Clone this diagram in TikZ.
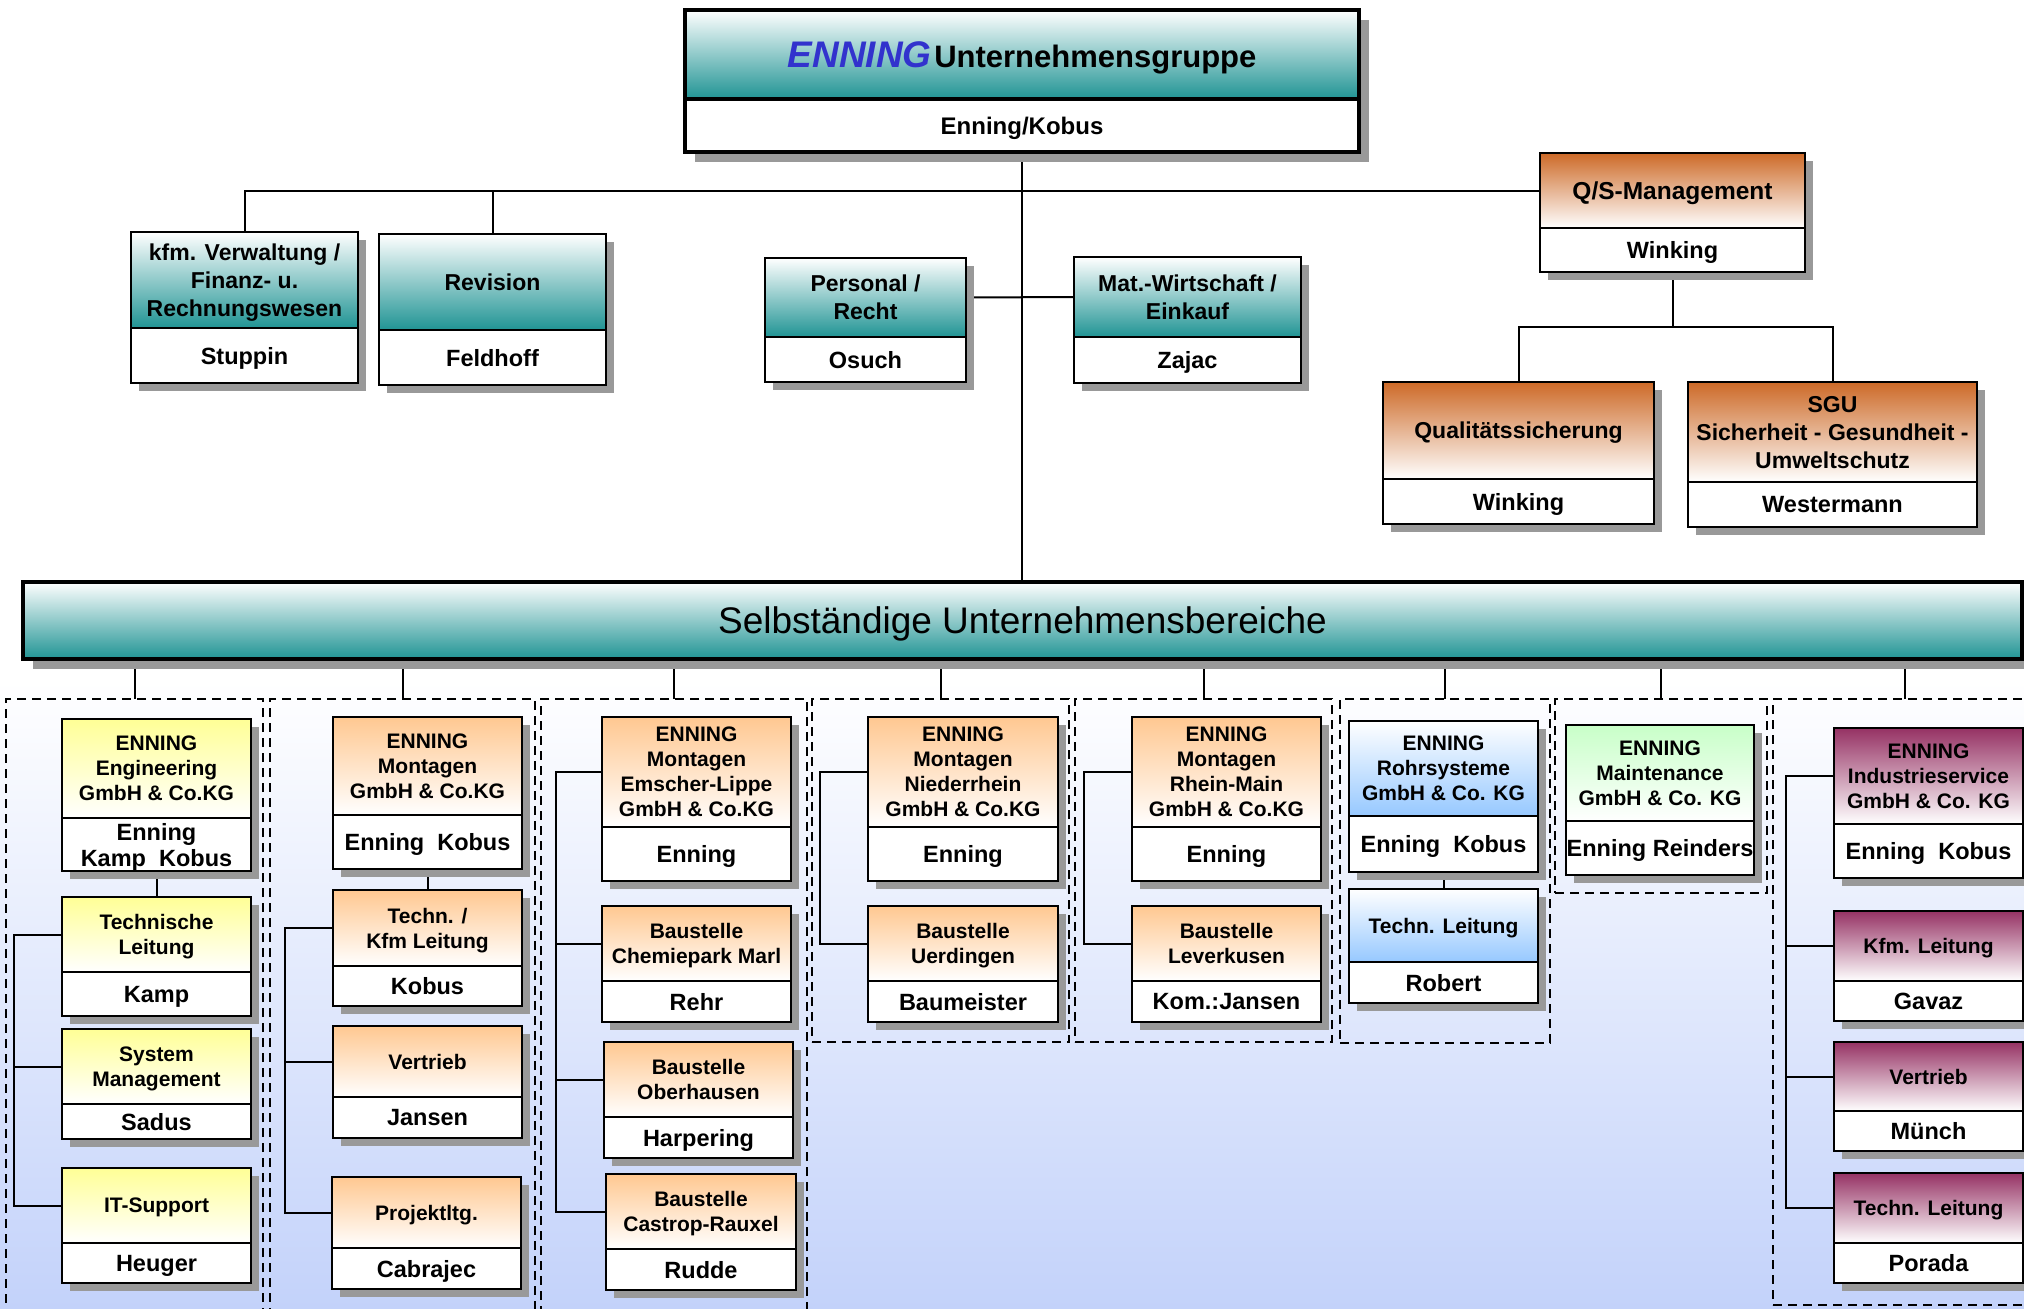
\documentclass[tikz,border=0pt]{standalone}
\usepackage{fontspec}
\setmainfont{Liberation Sans}
\definecolor{tealc}{RGB}{32,148,148}
\definecolor{orangec}{RGB}{205,106,40}
\definecolor{yellowc}{RGB}{255,255,150}
\definecolor{peachc}{RGB}{255,200,145}
\definecolor{bluec}{RGB}{150,200,255}
\definecolor{greenc}{RGB}{200,255,200}
\definecolor{magc}{RGB}{150,50,100}
\definecolor{shadowc}{RGB}{153,153,153}
\definecolor{bgblue}{RGB}{195,210,250}
\definecolor{ennblue}{RGB}{50,50,205}
\pgfdeclarelayer{back}\pgfdeclarelayer{conns}\pgfsetlayers{back,conns,main}
\tikzset{
  box/.style={draw=black, line width=2.2pt, inner sep=0pt, outer sep=0pt, align=center, anchor=north west, text depth=0pt},
  boxpp/.style={box, fill=white, font=\bfseries\fontsize{23.5}{26}\selectfont},
  boxhd/.style={box, font=\bfseries\fontsize{21}{25}\selectfont},
  bigt/.style={font=\bfseries\fontsize{23}{28}\selectfont},
  hteal/.style={top color=white, bottom color=tealc},
  horange/.style={top color=orangec, bottom color=white},
  hyellow/.style={top color=yellowc, bottom color=white},
  hpeach/.style={top color=peachc, bottom color=white},
  hblue/.style={top color=white, bottom color=bluec},
  hgreen/.style={top color=greenc, bottom color=white},
  hmag/.style={top color=magc, bottom color=white},
  conn/.style={draw=black, line width=2pt},
  grp/.style={draw=black, dash pattern=on 9pt off 6pt, line width=1.8pt, inner sep=0pt, outer sep=0pt, anchor=north west},
}
% #1 name, #2 x1, #3 y1, #4 ydiv, #5 x2, #6 y2, #7 header style, #8 title, #9 person
\newcommand\obox[9]{%
  \fill[shadowc] ({#2+8},{#3+8}) rectangle ({#5+8},{#6+8});
  \node[boxhd,#7,minimum width={(#5-(#2))*1pt},minimum height={(#4-(#3))*1pt}] (#1h) at (#2,#3) {#8};
  \node[boxpp,minimum width={(#5-(#2))*1pt},minimum height={(#6-(#4))*1pt}] (#1p) at (#2,#4) {#9};
}
\newcommand\grpbox[5]{%
  \node[grp,minimum width={(#4-(#2))*1pt},minimum height={(#5-(#3))*1pt}] (#1) at (#2,#3) {};
}
\begin{document}
\begin{tikzpicture}[x=1pt,y=-1pt]
\useasboundingbox (0,0) rectangle (2024,1309);
\clip (0,0) rectangle (2024,1309);

\begin{pgfonlayer}{back}
  \fill[white] (0,0) rectangle (2024,1309);
  \shade[top color=white, bottom color=bgblue] (0,680) rectangle (2024,1309);
  \grpbox{g1}{6}{699}{263}{1330}
  \grpbox{g2}{270}{699}{535}{1330}
  \grpbox{g3}{541}{699}{807}{1330}
  \grpbox{g4}{812}{699}{1069}{1042}
  \grpbox{g5}{1075}{699}{1332}{1042}
  \grpbox{g6}{1340}{699}{1550}{1043}
  \grpbox{g7}{1555}{699}{1767}{893}
  \grpbox{g8}{1773}{699}{2037}{1305}
\end{pgfonlayer}

% top box
\fill[shadowc] (695,20) rectangle (1369,162);
\node[box, line width=4pt, hteal, minimum width=674pt, minimum height=89pt] (tph) at (685,10)
  {{\color{ennblue}\bfseries\itshape\fontsize{37}{40}\selectfont ENNING} {\bfseries\fontsize{31}{36}\selectfont Unternehmensgruppe}};
\node[box, line width=4pt, fill=white, minimum width=674pt, minimum height=53pt, font=\bfseries\fontsize{24}{28}\selectfont] (tpp) at (685,99) {Enning/Kobus};

% upper staff boxes
\obox{kfm}{131}{232}{328}{358}{383}{hteal,bigt}{kfm. Verwaltung /\\Finanz- u.\\Rechnungswesen}{Stuppin}
\obox{rev}{379}{234}{330}{606}{385}{hteal,bigt}{Revision}{Feldhoff}
\obox{pers}{765}{258}{337}{966}{382}{hteal,bigt}{Personal /\\Recht}{Osuch}
\obox{mat}{1074}{257}{337}{1301}{383}{hteal,bigt}{Mat.-Wirtschaft /\\Einkauf}{Zajac}
\obox{qs}{1540}{153}{228}{1805}{272}{horange,font=\bfseries\fontsize{24.5}{29}\selectfont}{Q/S-Management}{Winking}
\obox{qual}{1383}{382}{479}{1654}{524}{horange,bigt}{Qualitätssicherung}{Winking}
\obox{sgu}{1688}{382}{482}{1977}{527}{horange,bigt}{SGU\\Sicherheit - Gesundheit -\\Umweltschutz}{Westermann}

% bar
\fill[shadowc] (33,592) rectangle (2034,669);
\node[box, line width=4.5pt, hteal, minimum width=1999pt, minimum height=77pt, font=\fontsize{37}{40}\selectfont] (bar) at (23,582) {Selbständige Unternehmensbereiche};

% group 1
\obox{eng}{62}{719}{818}{251}{871}{hyellow}{ENNING\\Engineering\\GmbH \& Co.KG}{Enning\\Kamp~ Kobus}
\obox{tla}{62}{897}{972}{251}{1016}{hyellow}{Technische\\Leitung}{Kamp}
\obox{sma}{62}{1029}{1104}{251}{1139}{hyellow}{System\\Management}{Sadus}
\obox{ita}{62}{1168}{1243}{251}{1283}{hyellow}{IT-Support}{Heuger}
% group 2
\obox{mob}{333}{717}{815}{522}{869}{hpeach}{ENNING\\Montagen\\GmbH \& Co.KG}{Enning~ Kobus}
\obox{tkb}{333}{890}{966}{522}{1006}{hpeach}{Techn. /\\Kfm Leitung}{Kobus}
\obox{veb}{333}{1026}{1097}{522}{1138}{hpeach}{Vertrieb}{Jansen}
\obox{prb}{332}{1177}{1248}{521}{1289}{hpeach}{Projektltg.}{Cabrajec}
% group 3
\obox{elc}{602}{717}{827}{791}{881}{hpeach}{ENNING\\Montagen\\Emscher-Lippe\\GmbH \& Co.KG}{Enning}
\obox{cmc}{602}{906}{981}{791}{1022}{hpeach}{Baustelle\\Chemiepark Marl}{Rehr}
\obox{obc}{604}{1042}{1117}{793}{1158}{hpeach}{Baustelle\\Oberhausen}{Harpering}
\obox{crc}{606}{1174}{1249}{796}{1290}{hpeach}{Baustelle\\Castrop-Rauxel}{Rudde}
% group 4
\obox{nrd}{868}{717}{827}{1058}{881}{hpeach}{ENNING\\Montagen\\Niederrhein\\GmbH \& Co.KG}{Enning}
\obox{ued}{868}{906}{981}{1058}{1022}{hpeach}{Baustelle\\Uerdingen}{Baumeister}
% group 5
\obox{rme}{1132}{717}{827}{1321}{881}{hpeach}{ENNING\\Montagen\\Rhein-Main\\GmbH \& Co.KG}{Enning}
\obox{lee}{1132}{906}{981}{1321}{1022}{hpeach}{Baustelle\\Leverkusen}{Kom.:Jansen}
% group 6
\obox{rof}{1349}{721}{816}{1538}{872}{hblue}{ENNING\\Rohrsysteme\\GmbH \& Co. KG}{Enning~ Kobus}
\obox{tlf}{1349}{889}{962}{1538}{1003}{hblue}{Techn. Leitung}{Robert}
% group 7
\obox{mag}{1566}{725}{821}{1754}{875}{hgreen}{ENNING\\Maintenance\\GmbH \& Co. KG}{Enning Reinders}
% group 8
\obox{inh}{1834}{728}{824}{2023}{878}{hmag}{ENNING\\Industrieservice\\GmbH \& Co. KG}{Enning~ Kobus}
\obox{kfh}{1834}{911}{981}{2023}{1021}{hmag}{Kfm. Leitung}{Gavaz}
\obox{veh}{1834}{1042}{1111}{2023}{1151}{hmag}{Vertrieb}{Münch}
\obox{tlh}{1834}{1173}{1243}{2023}{1283}{hmag}{Techn. Leitung}{Porada}

\begin{pgfonlayer}{conns}
  % upper part
  \draw[conn] (tpp.south) -- (tpp.south |- bar.north);
  \draw[conn] (kfmh.north) |- (qsh.west);
  \draw[conn] (revh.north) -- (revh.north |- qsh.west);
  \draw[conn] (persh.east) -- (math.west);
  \coordinate (qsj) at (1672.5,327);
  \draw[conn] (qsp.south) -- (qsp.south |- qsj);
  \draw[conn] (qualh.north) |- (qsj) -| (sguh.north);
  % bar to groups
  \foreach \g in {g1,g2,g3,g4,g5,g6,g7,g8}
    \draw[conn] (\g.north) -- (\g.north |- bar.south);
  % group 1
  \coordinate (ba) at (14,0);
  \draw[conn] (engp.south) -- (tlah.north);
  \draw[conn] (tlah.west) -- (tlah.west -| ba) -- (itah.west -| ba) -- (itah.west);
  \draw[conn] (smah.west) -- (smah.west -| ba);
  % group 2
  \coordinate (bb) at (285,0);
  \draw[conn] (mobp.south) -- (tkbh.north);
  \draw[conn] (tkbh.west) -- (tkbh.west -| bb) -- (prbh.west -| bb) -- (prbh.west);
  \draw[conn] (vebh.west) -- (vebh.west -| bb);
  % group 3
  \coordinate (bc) at (556,0);
  \draw[conn] (elch.west) -- (elch.west -| bc) -- (crch.west -| bc) -- (crch.west);
  \draw[conn] (cmch.west) -- (cmch.west -| bc);
  \draw[conn] (obch.west) -- (obch.west -| bc);
  % group 4
  \coordinate (bd) at (820,0);
  \draw[conn] (nrdh.west) -- (nrdh.west -| bd) -- (uedh.west -| bd) -- (uedh.west);
  % group 5
  \coordinate (be) at (1084,0);
  \draw[conn] (rmeh.west) -- (rmeh.west -| be) -- (leeh.west -| be) -- (leeh.west);
  % group 6
  \draw[conn] (rofp.south) -- (tlfh.north);
  % group 8
  \coordinate (bh) at (1786,0);
  \draw[conn] (inhh.west) -- (inhh.west -| bh) -- (tlhh.west -| bh) -- (tlhh.west);
  \draw[conn] (kfhh.west) -- (kfhh.west -| bh);
  \draw[conn] (vehh.west) -- (vehh.west -| bh);
\end{pgfonlayer}
\end{tikzpicture}
\end{document}
